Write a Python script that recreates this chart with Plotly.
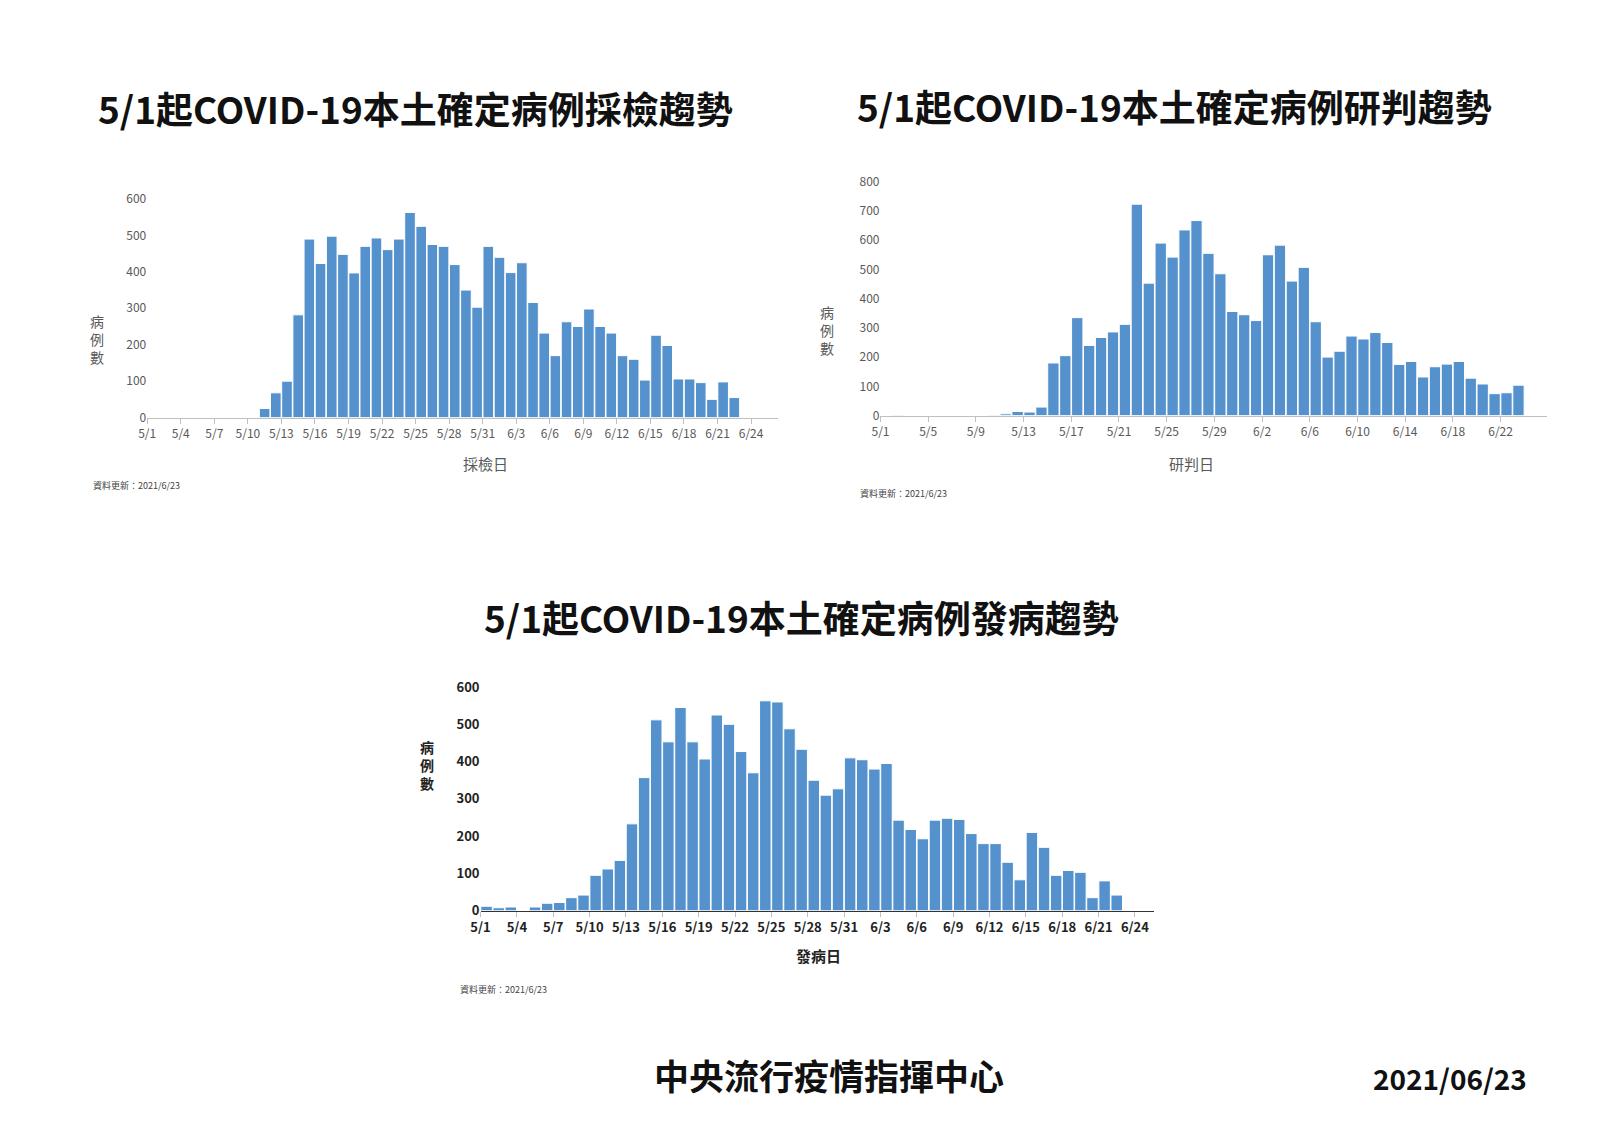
import plotly.graph_objects as go
import pandas as pd

W, H = 1600, 1132

# 採檢日 (5/11 - 6/22)
c1_start = "2021-05-11"
c1_vals = [25, 68, 100, 282, 490, 423, 498, 448, 397, 470, 493, 461, 490, 563, 525, 475, 470, 420, 350, 303, 470,
           440, 398, 425, 316, 232, 170, 263, 250, 298, 250, 232, 170, 160, 103, 226, 198, 106, 106, 96, 50, 98, 55]
# 研判日 (5/1 - 6/23)
c2_start = "2021-05-01"
c2_vals = [0, 2, 0, 0, 0, 0, 0, 0, 0, 2, 6, 14, 12, 29,
           180, 205, 335, 240, 267, 286, 312, 723, 453, 590, 542, 635, 667, 555, 485, 356, 345,
           325, 550, 583, 460, 507, 321, 200, 220, 272, 262, 284, 250, 175, 185, 132, 167, 176, 185, 128, 108, 75, 78, 104]
# 發病日 (5/1 - 6/22)
c3_start = "2021-05-01"
c3_vals = [12, 8, 10, 0, 10, 20, 22, 35, 42, 95, 112, 135, 233, 357, 512, 453, 545, 453, 407, 525, 500, 427, 370,
           563, 560, 488, 433, 350, 310, 327, 410,
           405, 380, 395, 243, 218, 193, 243, 248, 245, 207, 180, 180, 130, 83, 210, 170, 95, 108, 103, 35, 80, 42]

titles = ["5/1起COVID-19本土確定病例採檢趨勢", "5/1起COVID-19本土確定病例研判趨勢", "5/1起COVID-19本土確定病例發病趨勢"]
xtitles = ["採檢日", "研判日", "發病日"]
update_text = "資料更新：2021/6/23"

BLUE = "#5592cd"
FONT = "Noto Sans CJK TC"

def fx(p): return ((p - 14) / 0.969) / W
def fy(p): return 1 - ((p - 16) / 0.967) / H

fig = go.Figure()

charts = [
    dict(start=c1_start, vals=c1_vals, x0=140, x1=755, ytop=194, ybot=409, days=56.4, dt=3, color="#595959", bold=False, ymax=600, fs=12),
    dict(start=c2_start, vals=c2_vals, x0=855, x1=1505, ytop=177, ybot=407, days=55.9, dt=4, color="#595959", bold=False, ymax=800, fs=12),
    dict(start=c3_start, vals=c3_vals, x0=465, x1=1122, ytop=674, ybot=894, days=55.6, dt=3, color="#222222", bold=True, ymax=600, fs=13),
]

for i, c in enumerate(charts):
    n = "" if i == 0 else str(i + 1)
    dates = pd.date_range(c["start"], periods=len(c["vals"]), freq="D") + pd.Timedelta(hours=12)
    fig.add_trace(go.Bar(x=dates, y=c["vals"], marker=dict(color=BLUE, line=dict(color="white", width=1)),
                         width=86400000 * 0.95, xaxis="x" + n, yaxis="y" + n, showlegend=False))
    rng_start = pd.Timestamp("2021-05-01")
    rng_end = rng_start + pd.Timedelta(days=c["days"])
    tf = dict(family=FONT, size=c["fs"], color=c["color"])
    if c["bold"]:
        tf["weight"] = "bold"
    fig.update_layout(**{
        "xaxis" + n: dict(domain=[fx(c["x0"]), fx(c["x1"])], anchor="y" + n, type="date",
                          range=[rng_start, rng_end], tick0="2021-05-01", dtick=86400000 * c["dt"],
                          tickformat="%-m/%-d", ticks="outside", ticklen=5, tickcolor="#bfbfbf",
                          showline=True, linecolor="#bfbfbf" if not c["bold"] else "#333333", linewidth=1,
                          showgrid=False, tickfont=tf, zeroline=False),
        "yaxis" + n: dict(domain=[fy(c["ybot"]), fy(c["ytop"])], anchor="x" + n, range=[0, c["ymax"]],
                          dtick=100, showgrid=False, showline=False, tickfont=tf, zeroline=False, ticks=""),
    })

for txt, x, y in [(titles[0], 402, 105), (titles[1], 1142, 103), (titles[2], 778, 605)]:
    fig.add_annotation(text=f"<b>{txt}</b>", x=fx(x), y=fy(y), xref="paper", yref="paper", showarrow=False,
                       font=dict(family=FONT, size=37, color="#111111"), xanchor="center", yanchor="middle")
for txt, x, y, col, b in [(xtitles[0], 446, 454, "#595959", False), (xtitles[1], 1182, 454, "#595959", False),
                          (xtitles[2], 795, 950, "#222222", True)]:
    fig.add_annotation(text=f"<b>{txt}</b>" if b else txt, x=fx(x), y=fy(y), xref="paper", yref="paper",
                       showarrow=False, font=dict(family=FONT, size=15, color=col))
for x, y, col, b in [(82, 302, "#595959", False), (803, 293, "#595959", False), (404, 780, "#222222", True)]:
    t = "病<br>例<br>數"
    fig.add_annotation(text=f"<b>{t}</b>" if b else t, x=fx(x), y=fy(y), xref="paper", yref="paper",
                       showarrow=False, font=dict(family=FONT, size=14, color=col))
for x, y in [(85, 476), (833, 484), (443, 980)]:
    fig.add_annotation(text=update_text, x=fx(x), y=fy(y), xref="paper", yref="paper", showarrow=False,
                       xanchor="left", font=dict(family=FONT, size=9, color="#444444"))
fig.add_annotation(text="<b>中央流行疫情指揮中心</b>", x=fx(805), y=fy(1082), xref="paper", yref="paper",
                   showarrow=False, font=dict(family=FONT, size=35, color="#111111"))
fig.add_annotation(text="<b>2021/06/23</b>", x=fx(1487), y=fy(1080), xref="paper", yref="paper",
                   showarrow=False, xanchor="right", font=dict(family=FONT, size=28, color="#111111"))

fig.update_layout(width=W, height=H, margin=dict(l=0, r=0, t=0, b=0), plot_bgcolor="white",
                  paper_bgcolor="white", bargap=0.05)
fig.write_html("out.html")
